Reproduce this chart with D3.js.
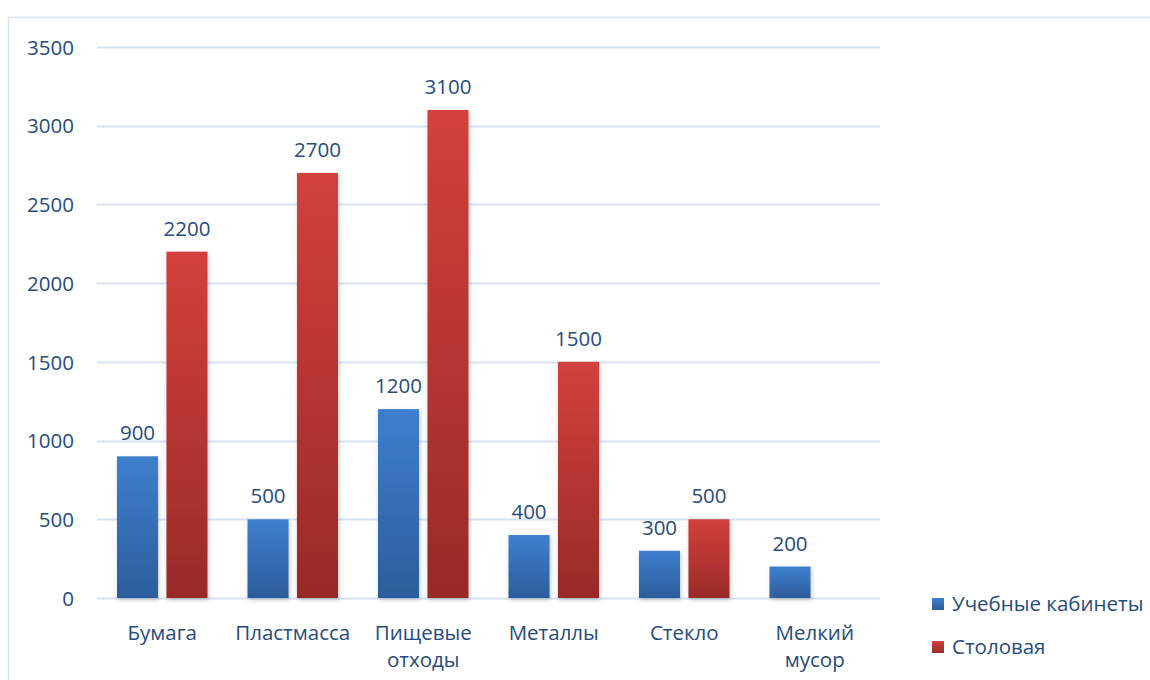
<!DOCTYPE html>
<html><head><meta charset="utf-8">
<script src="https://cdn.jsdelivr.net/npm/d3@7"></script>
<style>
html,body{margin:0;padding:0;background:#fff;}
svg{display:block;font-family:"Open Sans","Noto Sans",sans-serif;}
</style></head>
<body>
<svg id="chart" width="1150" height="680"></svg>
<script>
const categories = ["Бумага", "Пластмасса", "Пищевые отходы", "Металлы", "Стекло", "Мелкий мусор"];
const categoryLines = [["Бумага"], ["Пластмасса"], ["Пищевые", "отходы"], ["Металлы"], ["Стекло"], ["Мелкий", "мусор"]];
const seriesNames = ["Учебные кабинеты", "Столовая"];
const classrooms = [900, 500, 1200, 400, 300, 200];
const canteen = [2200, 2700, 3100, 1500, 500, null];
const yTicks = [0, 500, 1000, 1500, 2000, 2500, 3000, 3500];

(function(){
const svg = d3.select("#chart");
const textColor = "#264b7c";
const fs = "20.5px";
const mLeft = 97, mRight = 880, mTop = 47, mBottom = 598;

// border
svg.append("rect").attr("x", 8.5).attr("y", 17.5).attr("width", 1160).attr("height", 700)
  .attr("fill", "none").attr("stroke", "#d3e1f3").attr("stroke-width", 1.5);

const defs = svg.append("defs");
const gb = defs.append("linearGradient").attr("id", "gBlue").attr("x1", 0).attr("y1", 0).attr("x2", 0).attr("y2", 1);
gb.append("stop").attr("offset", "0%").attr("stop-color", "#3e7fce");
gb.append("stop").attr("offset", "100%").attr("stop-color", "#2c5d9b");
const gr = defs.append("linearGradient").attr("id", "gRed").attr("x1", 0).attr("y1", 0).attr("x2", 0).attr("y2", 1);
gr.append("stop").attr("offset", "0%").attr("stop-color", "#d3403c");
gr.append("stop").attr("offset", "100%").attr("stop-color", "#982a28");
const f = defs.append("filter").attr("id", "shadow").attr("x", "-20%").attr("y", "-5%").attr("width", "150%").attr("height", "115%");
f.append("feDropShadow").attr("dx", 1).attr("dy", 2).attr("stdDeviation", 2).attr("flood-color", "#000").attr("flood-opacity", 0.22);

const y = d3.scaleLinear().domain([0, 3500]).range([mBottom, mTop]);
const x = d3.scaleBand().domain(categories).range([mLeft, mRight]).paddingInner(0).paddingOuter(0);
const sub = d3.scaleBand().domain(seriesNames).range([20, x.bandwidth() - 20]).paddingInner(0.17);

// gridlines
svg.append("g").selectAll("line").data(yTicks).join("line")
  .attr("x1", mLeft).attr("x2", mRight)
  .attr("y1", d => Math.round(y(d)) + 0.5).attr("y2", d => Math.round(y(d)) + 0.5)
  .attr("stroke", "#d6e2f2").attr("stroke-width", 2);

// y axis labels
const yAxis = d3.axisLeft(y).tickValues(yTicks).tickFormat(d3.format("d")).tickSize(0).tickPadding(0);
const ya = svg.append("g").attr("transform", "translate(74,0)").call(yAxis);
ya.select(".domain").remove();
ya.selectAll("text").attr("fill", textColor).style("font-size", fs).style("font-family", "'Open Sans','Noto Sans',sans-serif").attr("dy", "0.35em");

const series = [
  {name: seriesNames[0], values: classrooms, fill: "url(#gBlue)"},
  {name: seriesNames[1], values: canteen, fill: "url(#gRed)"}
];

series.forEach(s => {
  const g = svg.append("g");
  const data = categories.map((c, i) => ({c, v: s.values[i]})).filter(d => d.v != null);
  g.selectAll("rect").data(data).join("rect")
    .attr("x", d => x(d.c) + sub(s.name))
    .attr("width", sub.bandwidth())
    .attr("y", d => y(d.v))
    .attr("height", d => y(0) - y(d.v))
    .attr("fill", s.fill)
    .attr("filter", "url(#shadow)");
  g.selectAll("text").data(data).join("text")
    .attr("x", d => x(d.c) + sub(s.name) + sub.bandwidth() / 2)
    .attr("y", d => y(d.v) - 16)
    .attr("text-anchor", "middle")
    .attr("fill", textColor)
    .style("font-size", fs)
    .text(d => d.v);
});

// x labels
const xl = svg.append("g").selectAll("text").data(categories).join("text")
  .attr("text-anchor", "middle")
  .attr("fill", textColor)
  .style("font-size", fs)
  .attr("x", d => x(d) + x.bandwidth() / 2)
  .attr("y", 640);
xl.each(function(d, i) {
  const t = d3.select(this);
  categoryLines[i].forEach((ln, j) => {
    t.append("tspan").attr("x", x(d) + x.bandwidth() / 2).attr("dy", j === 0 ? 0 : 27).text(ln);
  });
});

// legend
const lg = svg.append("g").selectAll("g").data(series).join("g")
  .attr("transform", (d, i) => `translate(932, ${598 + i * 43})`);
lg.append("rect").attr("width", 12).attr("height", 12).attr("fill", d => d.fill);
lg.append("text").attr("x", 20).attr("y", 6).attr("dy", "0.35em").attr("fill", textColor)
  .style("font-size", fs).text(d => d.name);
})();
</script>
</body></html>
